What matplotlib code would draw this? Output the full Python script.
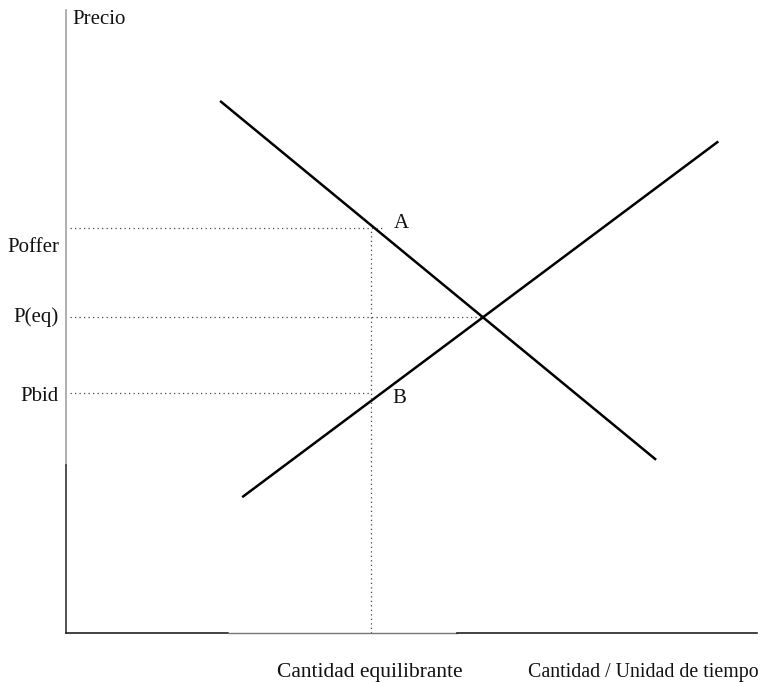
import matplotlib.pyplot as plt

# chart units: quantity 0..10 along x, price 0..10 along y
DEMAND_Q = [2.23, 8.54]
DEMAND_P = [8.54, 2.78]
SUPPLY_Q = [2.55, 9.44]
SUPPLY_P = [2.18, 7.89]

Q_EQ = 6.02
Q_CUT = 4.41
PRICE_LEVELS = {"Poffer": 6.50, "P(eq)": 5.07, "Pbid": 3.85}
PRICE_LINE_END = {"Poffer": 4.62, "P(eq)": Q_EQ, "Pbid": Q_CUT}
PRICE_LABEL_Y = {"Poffer": 6.18, "P(eq)": 5.07, "Pbid": 3.79}

POINT_LABELS = {"A": (4.86, 6.58), "B": (4.83, 3.77)}

FONT = "Liberation Serif"
DOT = (0, (1, 2.6))


def main():
    fig = plt.figure(figsize=(7.67, 6.82), dpi=100)
    ax = fig.add_axes([66 / 767, 49 / 682, 691 / 767, 623 / 682])
    ax.set_xlim(0, 10)
    ax.set_ylim(0, 10)
    ax.axis("off")

    # axes drawn as segments (scan has grey and black parts)
    ax.plot([0, 0], [2.70, 10], color="#9a9a9a", lw=1.1, clip_on=False)
    ax.plot([0, 0], [0, 2.70], color="#222222", lw=1.1, clip_on=False)
    ax.plot([0, 2.34], [0, 0], color="#222222", lw=1.2, clip_on=False)
    ax.plot([2.34, 5.66], [0, 0], color="#777777", lw=1.0, clip_on=False)
    ax.plot([5.66, 10.0], [0, 0], color="#222222", lw=1.2, clip_on=False)

    # demand and supply
    ax.plot(DEMAND_Q, DEMAND_P, color="black", lw=1.8, solid_capstyle="butt")
    ax.plot(SUPPLY_Q, SUPPLY_P, color="black", lw=1.8, solid_capstyle="butt")

    # dotted guides
    for name, level in PRICE_LEVELS.items():
        ax.plot([0.06, PRICE_LINE_END[name]], [level, level],
                color="#444444", lw=0.9, linestyle=DOT)
        ax.text(-0.1, PRICE_LABEL_Y[name], name, ha="right", va="center",
                fontsize=15, family=FONT, color="#111111")
    ax.plot([Q_CUT, Q_CUT], [0, PRICE_LEVELS["Poffer"]],
            color="#444444", lw=0.9, linestyle=DOT)

    for name, (q, p) in POINT_LABELS.items():
        ax.text(q, p, name, ha="center", va="center", fontsize=15,
                family=FONT, color="#111111")

    ax.text(0.09, 9.84, "Precio", ha="left", va="center", fontsize=15,
            family=FONT, color="#111111")
    ax.text(4.40, -0.63, "Cantidad equilibrante", ha="center", va="center",
            fontsize=15.5, family=FONT, color="#111111")
    ax.text(8.36, -0.63, "Cantidad / Unidad de tiempo", ha="center", va="center",
            fontsize=14.3, family=FONT, color="#111111")

    fig.savefig("out.png", dpi=100)
    plt.close(fig)


if __name__ == "__main__":
    main()
